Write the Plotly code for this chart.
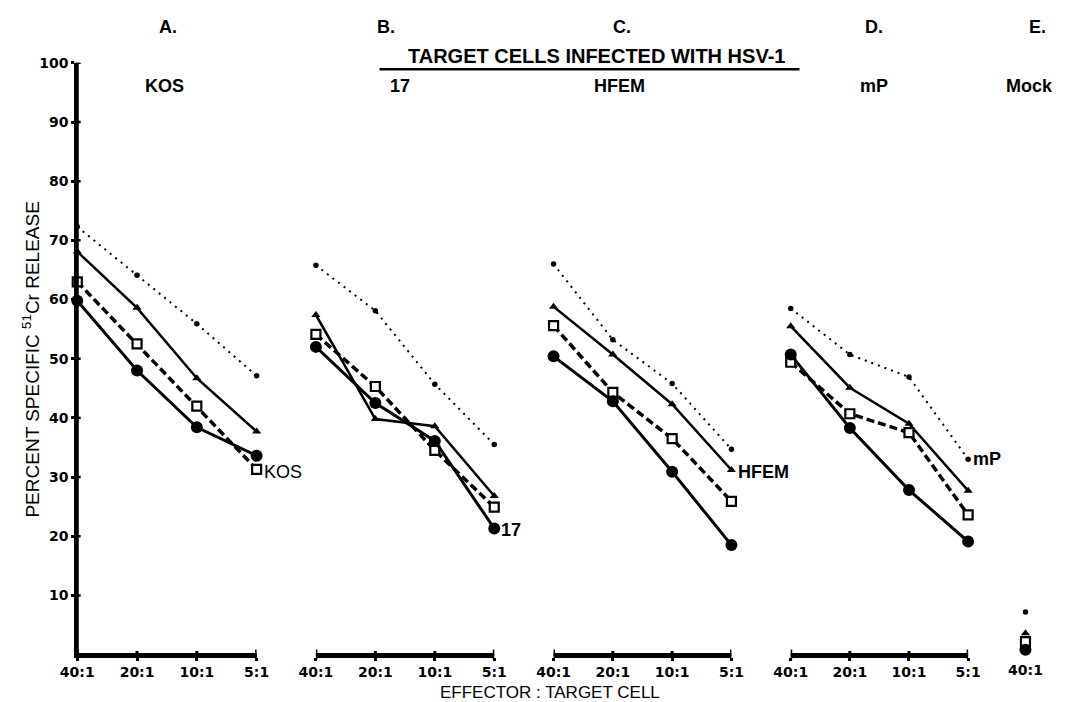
import plotly.graph_objects as go

# ---------------- data ----------------
ratios = ["40:1", "20:1", "10:1", "5:1"]
panel_viruses = ["KOS", "17", "HFEM", "mP"]
panel_letters = ["A.", "B.", "C.", "D.", "E."]

# percent specific 51Cr release, per target virus, per effector series
kos_circle = [59.8, 48.0, 38.4, 33.6]
kos_square = [63.0, 52.5, 42.0, 31.3]
kos_triangle = [68.1, 58.6, 46.7, 37.7]
kos_dot = [72.3, 64.1, 55.9, 47.1]

s17_circle = [52.0, 42.5, 36.1, 21.3]
s17_square = [54.1, 45.3, 34.5, 24.9]
s17_triangle = [57.4, 39.8, 38.6, 26.8]
s17_dot = [65.8, 58.1, 45.7, 35.5]

hfem_circle = [50.4, 42.8, 30.9, 18.5]
hfem_square = [55.6, 44.3, 36.5, 25.9]
hfem_triangle = [58.8, 50.7, 42.3, 31.2]
hfem_dot = [66.0, 53.2, 45.8, 34.7]

mp_circle = [50.7, 38.3, 27.8, 19.1]
mp_square = [49.4, 40.7, 37.5, 23.6]
mp_triangle = [55.5, 45.1, 39.0, 27.7]
mp_dot = [58.5, 50.7, 46.9, 33.0]

mock_ratio = ["40:1"]
mock_circle = [0.8]
mock_square = [2.2]
mock_triangle = [3.6]
mock_dot = [7.2]

y_ticks = [10, 20, 30, 40, 50, 60, 70, 80, 90, 100]

# ---------------- layout helpers ----------------
W, H = 1072, 702
FONT = "Liberation Sans, Arial, Helvetica, sans-serif"
TICKFONT = "DejaVu Sans, Liberation Sans, sans-serif"


def fx(p):
    return p / W


def fy(p):
    return 1 - p / H


panel_px = [(62, 246.5), (307.5, 491), (552, 735), (796, 978.5), (1007, 1068)]
y_dom = [fy(654), fy(55.5)]

styles = {
    "dot": dict(mode="lines+markers",
                line=dict(color="black", width=2, dash="2px,5px"),
                marker=dict(symbol="circle", size=5.5, color="black")),
    "triangle": dict(mode="lines+markers",
                     line=dict(color="black", width=2.5),
                     marker=dict(symbol="triangle-up", size=8, color="black")),
    "square": dict(mode="lines+markers",
                   line=dict(color="black", width=3.5, dash="8px,4px"),
                   marker=dict(symbol="square", size=9, color="white",
                               line=dict(color="black", width=2.2))),
    "circle": dict(mode="lines+markers",
                   line=dict(color="black", width=3),
                   marker=dict(symbol="circle", size=12, color="black")),
}

panel_data = [
    {"dot": kos_dot, "triangle": kos_triangle, "square": kos_square, "circle": kos_circle},
    {"dot": s17_dot, "triangle": s17_triangle, "square": s17_square, "circle": s17_circle},
    {"dot": hfem_dot, "triangle": hfem_triangle, "square": hfem_square, "circle": hfem_circle},
    {"dot": mp_dot, "triangle": mp_triangle, "square": mp_square, "circle": mp_circle},
]

fig = go.Figure()
for i, pdata in enumerate(panel_data):
    xa = "x" if i == 0 else f"x{i + 1}"
    for key in ["dot", "triangle", "square", "circle"]:
        fig.add_trace(go.Scatter(x=ratios, y=pdata[key], xaxis=xa, yaxis="y",
                                 name=f"{panel_viruses[i]} {key}", showlegend=False,
                                 cliponaxis=False, **styles[key]))

mock_data = {"dot": mock_dot, "triangle": mock_triangle, "square": mock_square, "circle": mock_circle}
for key in ["dot", "triangle", "square", "circle"]:
    st = dict(styles[key])
    st["mode"] = "markers"
    fig.add_trace(go.Scatter(x=mock_ratio, y=mock_data[key], xaxis="x5", yaxis="y",
                             name=f"Mock {key}", showlegend=False, cliponaxis=False, **st))

tickfont = dict(family=TICKFONT, size=14, color="black", weight=700)

layout = dict(
    width=W, height=H,
    margin=dict(l=0, r=0, t=0, b=0),
    paper_bgcolor="white", plot_bgcolor="rgba(0,0,0,0)",
    showlegend=False,
    yaxis=dict(domain=y_dom, range=[0, 100], anchor="x", showgrid=False, zeroline=False,
               showline=True, linecolor="black", linewidth=3, layer="above traces",
               tickmode="array", tickvals=y_ticks, ticktext=[str(v) for v in y_ticks],
               ticks="outside", ticklen=3, tickwidth=3, tickcolor="black",
               tickfont=dict(family=TICKFONT, size=14, color="black", weight=700)),
)
for i in range(5):
    key = "xaxis" if i == 0 else f"xaxis{i + 1}"
    a, b = panel_px[i]
    cats = ratios if i < 4 else mock_ratio
    rng = [0, 3] if i < 4 else [-0.5, 0.5]
    layout[key] = dict(domain=[fx(a), fx(b)], anchor="y", type="category",
                       categoryorder="array", categoryarray=cats, range=rng,
                       showgrid=False, zeroline=False, layer="above traces",
                       showline=(i < 4), linecolor="black", linewidth=3,
                       ticks="outside", ticklen=3, tickwidth=3,
                       tickcolor=("black" if i < 4 else "rgba(0,0,0,0)"),
                       tickfont=tickfont)
fig.update_layout(**layout)

# axis lines and tick marks, tied to the axes' own domains / scales
base = y_dom[0]
shapes = [dict(type="line", xref="x domain", yref="paper", x0=0, x1=0,
               y0=base, y1=y_dom[1], line=dict(color="black", width=3))]
for v in y_ticks:
    shapes.append(dict(type="line", xref="paper", yref="y", x0=fx(58.5), x1=fx(65.5),
                       y0=v, y1=v, line=dict(color="black", width=2.5)))
for i in range(4):
    xa = "x" if i == 0 else f"x{i + 1}"
    shapes.append(dict(type="line", xref=f"{xa} domain", yref="paper", x0=0, x1=1,
                       y0=base, y1=base, line=dict(color="black", width=3)))
    for k, r in enumerate(ratios):
        end = k in (0, len(ratios) - 1)
        half = 5 if end else 3.5
        shapes.append(dict(type="line", xref=xa, yref="paper", x0=k, x1=k,
                           y0=base - half / H, y1=base + half / H,
                           line=dict(color="black", width=3)))
shapes.append(dict(type="line", xref="paper", yref="paper",
                   x0=fx(373), x1=fx(805), y0=fy(62), y1=fy(62),
                   line=dict(color="black", width=2.5)))

ann = []
# panel letters
letter_px = [155, 380, 622, 882, 1050]
for t, p in zip(panel_letters, letter_px):
    ann.append(dict(text=t, x=fx(p), y=fy(19), xref="paper", yref="paper",
                    showarrow=False, xanchor="center", yanchor="middle",
                    font=dict(family=FONT, size=18, color="black", weight=700)))
# virus labels on top
virus_px = [(152, "KOS"), (394, "17"), (620, "HFEM"), (882, "mP"), (1042, "Mock")]
for p, t in virus_px:
    ann.append(dict(text=t, x=fx(p), y=fy(79), xref="paper", yref="paper",
                    showarrow=False, xanchor="center", yanchor="middle",
                    font=dict(family=FONT, size=18, color="black", weight=700)))
ann.append(dict(text="TARGET CELLS INFECTED WITH HSV-1", x=fx(596), y=fy(49),
                xref="paper", yref="paper", showarrow=False,
                xanchor="center", yanchor="middle",
                font=dict(family=FONT, size=20, color="black", weight=700)))
# axis titles
ann.append(dict(text="PERCENT SPECIFIC <sup>51</sup>Cr RELEASE", x=fx(14), y=fy(356),
                xref="paper", yref="paper", showarrow=False, textangle=-90,
                xanchor="center", yanchor="middle",
                font=dict(family=FONT, size=19, color="black")))
ann.append(dict(text="EFFECTOR : TARGET CELL", x=fx(548), y=fy(692),
                xref="paper", yref="paper", showarrow=False,
                xanchor="center", yanchor="middle",
                font=dict(family=FONT, size=17, color="black")))
# end-of-line labels attached to data points
end_labels = [("x", kos_square[3], "KOS", 5, -3, 400),
              ("x2", s17_circle[3], "17", 5, -1, 700),
              ("x3", hfem_triangle[3], "HFEM", 5, -2, 700),
              ("x4", mp_dot[3], "mP", 3, 0, 700)]
for xr, yv, t, xs, ys, wt in end_labels:
    ann.append(dict(text=t, x=ratios.index("5:1"), y=yv, xref=xr, yref="y",
                    showarrow=False, xanchor="left", yanchor="middle",
                    xshift=xs, yshift=ys,
                    font=dict(family=FONT, size=18, color="black", weight=wt)))
fig.update_layout(annotations=ann, shapes=shapes)

fig.write_html("out.html")
